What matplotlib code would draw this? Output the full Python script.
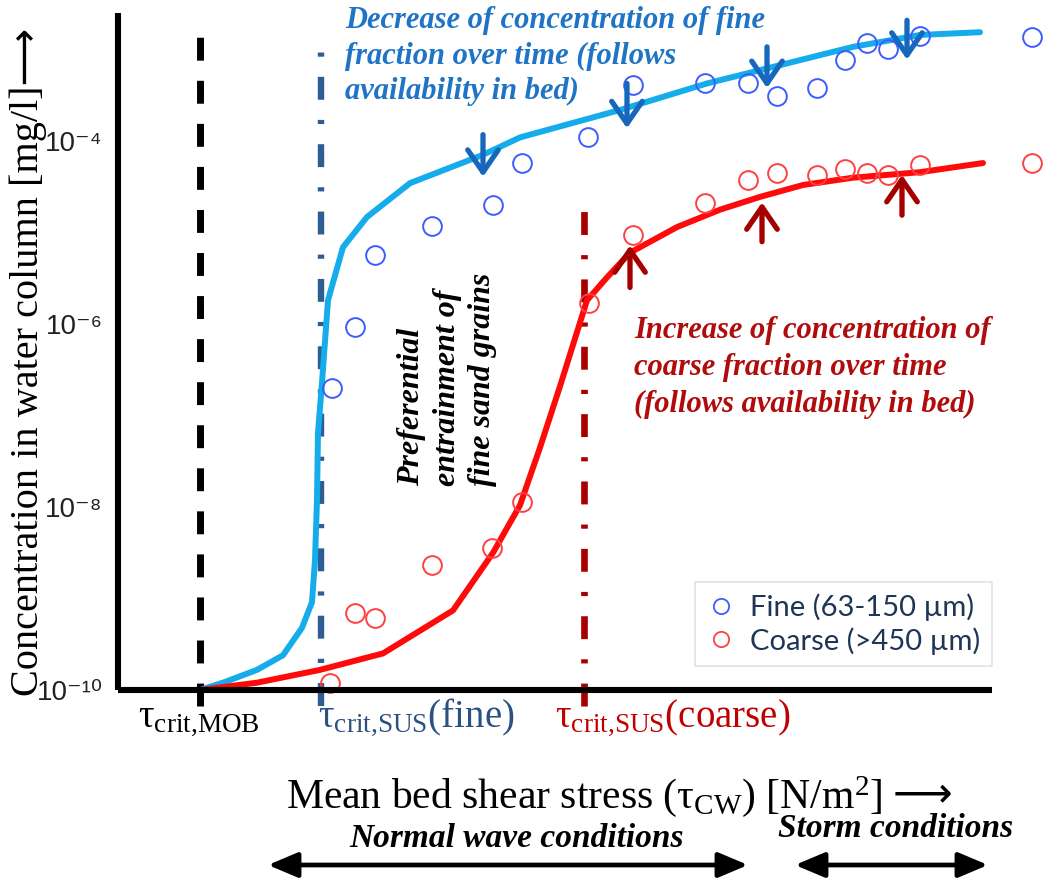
import numpy as np
import matplotlib
matplotlib.use("Agg")
import matplotlib.pyplot as plt
from matplotlib.lines import Line2D

plt.rcParams["font.family"] = ["Liberation Serif", "DejaVu Sans"]
plt.rcParams["mathtext.fontset"] = "custom"
plt.rcParams["mathtext.rm"] = "Liberation Serif"
plt.rcParams["mathtext.it"] = "Liberation Serif:italic"
plt.rcParams["mathtext.default"] = "regular"
plt.rcParams["lines.scale_dashes"] = False

# ---- data (shear stress in arbitrary units, concentration as log10 mg/l) ----
fine_fit_x = [0.82, 1.05, 1.39, 1.65, 1.84, 1.94, 1.97, 1.99, 2.00, 2.04, 2.10,
              2.25, 2.49, 2.92, 3.65, 4.02, 5.02, 5.89, 6.62, 7.35, 8.02, 8.62]
fine_fit_logc = [-10.0, -9.92, -9.78, -9.62, -9.32, -9.04, -8.58, -7.92, -7.19,
                 -6.64, -5.74, -5.16, -4.83, -4.46, -4.15, -3.96, -3.66, -3.37,
                 -3.17, -2.97, -2.84, -2.81]

coarse_fit_x = [0.82, 1.39, 2.02, 2.65, 3.35, 3.75, 4.02, 4.22, 4.42, 4.69, 4.89,
                5.12, 5.59, 6.02, 6.42, 6.85, 7.35, 8.02, 8.65]
coarse_fit_logc = [-10.0, -9.92, -9.78, -9.60, -9.13, -8.50, -7.98, -7.35, -6.68,
                   -5.74, -5.49, -5.22, -4.94, -4.75, -4.61, -4.48, -4.40, -4.34,
                   -4.24]

fine_obs_x = [2.14, 2.37, 2.57, 3.14, 3.75, 4.04, 4.70, 5.15, 5.87, 6.30, 6.59,
              6.99, 7.27, 7.49, 7.70, 8.02, 9.14]
fine_obs_logc = [-6.70, -6.03, -5.25, -4.93, -4.70, -4.24, -3.95, -3.39, -3.37,
                 -3.37, -3.51, -3.42, -3.11, -2.93, -2.99, -2.85, -2.86]

coarse_obs_x = [2.12, 2.37, 2.57, 3.14, 3.74, 4.04, 4.71, 5.15, 5.87, 6.30, 6.59,
                6.99, 7.27, 7.49, 7.70, 8.02, 9.14]
coarse_obs_logc = [-9.92, -9.16, -9.21, -8.63, -8.45, -7.95, -5.77, -5.03, -4.68,
                   -4.43, -4.35, -4.37, -4.31, -4.35, -4.37, -4.26, -4.24]

# thresholds: mobilisation, suspension of fine, suspension of coarse
tau_crit = [0.82, 2.03, 4.66]

# arrows showing the change of concentration over time
down_x = [3.65, 5.09, 6.49, 7.89]
down_from = [-3.93, -3.37, -2.97, -2.68]
down_to = [-4.39, -3.86, -3.42, -3.11]
up_x = [5.12, 6.44, 7.84]
up_from = [-5.60, -5.10, -4.81]
up_to = [-5.14, -4.67, -4.37]

ytick_exp = [-10, -8, -6, -4]
legend_labels = ["Fine (63-150 µm)", "Coarse (>450 µm)"]

# ---- figure ----
W, H = 1043, 880
fig = plt.figure(figsize=(W / 100, H / 100), dpi=100)
fig.patch.set_facecolor("white")
ax = fig.add_axes([118 / W, 1 - 690 / H, (992 - 118) / W, (690 - 13) / H])
ax.set_yscale("log")
ax.set_xlim(0, 8.74)
ax.set_ylim(1e-10, 10 ** -2.6)

def c(v):
    return 10.0 ** np.asarray(v, dtype=float)

# threshold lines
ax.plot([tau_crit[0]] * 2, c([-10.17, -2.73]), color="black", lw=5,
        dashes=(16.5, 14.5), clip_on=False, zorder=1.5)
ax.plot([tau_crit[1]] * 2, c([-10.17, -2.87]), color="#2f5c93", lw=4.6,
        dashes=(16.5, 14.5, 3, 14.5), clip_on=False, zorder=1.5)
ax.plot([tau_crit[2]] * 2, c([-10.17, -4.64]), color="#a80000", lw=4.8,
        dashes=(16.5, 14.5, 3, 14.5), clip_on=False, zorder=1.5)

# fitted curves
ax.plot(fine_fit_x, c(fine_fit_logc), color="#14acea", lw=4.3,
        solid_capstyle="round", zorder=2)
ax.plot(coarse_fit_x, c(coarse_fit_logc), color="#ff0a0a", lw=4.3,
        solid_capstyle="round", zorder=2)

# observations
ax.plot(fine_obs_x, c(fine_obs_logc), ls="none", marker="o", ms=13.5,
        mfc="none", mec="#3d5cff", mew=1.4, clip_on=False, zorder=2.2)
ax.plot(coarse_obs_x, c(coarse_obs_logc), ls="none", marker="o", ms=13.5,
        mfc="none", mec="#ff4040", mew=1.4, clip_on=False, zorder=2.2)

# time-evolution arrows
arrow_style = "->,head_length=0.8,head_width=0.55"
for x, a, b in zip(down_x, down_from, down_to):
    ax.annotate("", xy=(x, 10 ** b), xytext=(x, 10 ** a),
                arrowprops=dict(arrowstyle=arrow_style, lw=3.8, color="#1767bd",
                                shrinkA=0, shrinkB=0, mutation_scale=20), zorder=3)
for x, a, b in zip(up_x, up_from, up_to):
    ax.annotate("", xy=(x, 10 ** b), xytext=(x, 10 ** a),
                arrowprops=dict(arrowstyle=arrow_style, lw=3.8, color="#a50000",
                                shrinkA=0, shrinkB=0, mutation_scale=20), zorder=3)

# axes styling
for s in ["top", "right"]:
    ax.spines[s].set_visible(False)
for s in ["left", "bottom"]:
    ax.spines[s].set_linewidth(4.4)
    ax.spines[s].set_capstyle("butt")
ax.set_xticks([])
ax.set_yticks(c(ytick_exp))
sup = str.maketrans("-0123456789", "\u207b\u2070\u00b9\u00b2\u00b3\u2074\u2075\u2076\u2077\u2078\u2079")
ax.set_yticklabels(["10" + str(e).translate(sup) for e in ytick_exp],
                   family=["Liberation Sans", "DejaVu Sans"], size=20,
                   color="#222222")
ax.yaxis.set_minor_locator(matplotlib.ticker.NullLocator())
ax.tick_params(axis="y", length=0, pad=11)

# legend
handles = [
    Line2D([], [], ls="none", marker="o", ms=11, mfc="none", mec="#3d5cff", mew=1.3),
    Line2D([], [], ls="none", marker="o", ms=11, mfc="none", mec="#ff4040", mew=1.3),
]
leg = ax.legend(handles, legend_labels, loc="lower right",
                bbox_to_anchor=(1.0, 0.035), prop=dict(family="Lato", size=21),
                labelcolor="#1f3556", frameon=True, fancybox=False,
                edgecolor="#e2e2e2", framealpha=1, handletextpad=0.5,
                borderpad=0.4, labelspacing=0.2, handlelength=1.0,
                borderaxespad=0)
leg.get_frame().set_linewidth(1.2)

# in-plot annotations
def fx(px):
    return px / W

def fy(py):
    return 1 - py / H

fig.text(fx(345), fy(6),
         "Decrease of concentration of fine\nfraction over time (follows\navailability in bed)",
         ha="left", va="top", size=22, weight="bold", style="italic",
         color="#1f74c6", linespacing=1.3)
fig.text(fx(634), fy(316),
         "Increase of concentration of\ncoarse fraction over time\n(follows availability in bed)",
         ha="left", va="top", size=22, weight="bold", style="italic",
         color="#b00c0c", linespacing=1.37)
fig.text(fx(447), fy(486),
         "Preferential\nentrainment of\nfine sand grains",
         ha="center", va="bottom", rotation=90, multialignment="left",
         size=23, weight="bold", style="italic", color="black", linespacing=1.28)

# axis captions
fig.text(fx(28), fy(362), "Concentration in water column [mg/l]\u27f6",
         rotation=90, ha="center", va="center", size=29,
         family=["Liberation Serif", "DejaVu Sans"])

fig.text(fx(138), fy(726), r"τ$_{crit{,}MOB}$", ha="left", va="baseline",
         size=28, color="black")
fig.text(fx(318), fy(726), r"τ$_{crit{,}SUS}$(fine)", ha="left", va="baseline",
         size=28, color="#2b5182")
fig.text(fx(555), fy(726), r"τ$_{crit{,}SUS}$(coarse)", ha="left", va="baseline",
         size=28, color="#c00000")

fig.text(fx(286), fy(808), r"Mean bed shear stress (τ$_{CW}$) [N/m$^{2}$]",
         ha="left", va="baseline", size=30)
fig.text(fx(893), fy(806), "\u27f6", ha="left", va="baseline", size=30,
         family="DejaVu Sans")

fig.text(fx(517), fy(838), "Normal wave conditions", ha="center", va="center",
         size=24, weight="bold", style="italic")
fig.text(fx(896), fy(828), "Storm conditions", ha="center", va="center",
         size=24, weight="bold", style="italic")

for x0, x1 in [(268, 748), (795, 988)]:
    fig.add_artist(matplotlib.patches.FancyArrowPatch(
        (fx(x0), fy(865)), (fx(x1), fy(865)), transform=fig.transFigure,
        arrowstyle="<|-|>,head_length=0.9,head_width=0.38", mutation_scale=20,
        lw=3.4, color="black", shrinkA=0, shrinkB=0))

fig.savefig("out.png", dpi=100, facecolor="white")
